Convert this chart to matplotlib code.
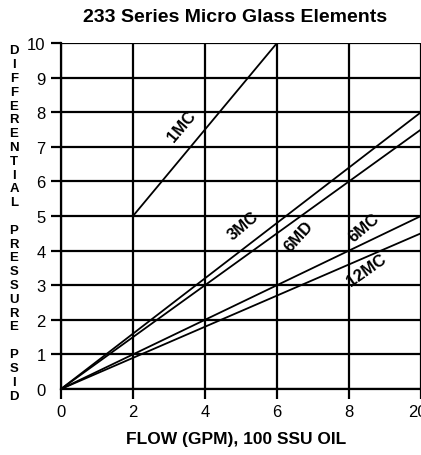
import matplotlib
matplotlib.use('Agg')
import matplotlib.pyplot as plt
import matplotlib.transforms as mtransforms
from matplotlib import font_manager

# font: condensed look if available
names = {f.name for f in font_manager.fontManager.ttflist}
fam = 'Liberation Sans'
for cand in ['Liberation Sans Narrow', 'DejaVu Sans Condensed']:
    if cand in names:
        fam = cand
        break
plt.rcParams['font.family'] = [fam, 'DejaVu Sans']

# data
series_names = ['1MC', '3MC', '6MD', '6MC', '12MC']
series_x = [[2, 6], [0, 10], [0, 10], [0, 10], [0, 10]]
series_y = [[5, 10], [0, 8], [0, 7.5], [0, 5], [0, 4.5]]
label_pos = [(3.36, 7.6), (5.06, 4.72), (6.6, 4.42), (8.4, 4.68), (8.5, 3.45)]
label_rot = [50, 40, 48, 40, 35]
x_ticks = [0, 2, 4, 6, 8, 10]
x_labels = ['0', '2', '4', '6', '8', '20']
y_ticks = list(range(0, 11))
y_title = 'DIFFERENTIAL PRESSURE PSID'

fig = plt.figure(figsize=(4.21, 4.56), dpi=100)
ax = fig.add_axes([61 / 421, 66 / 456, 1 - 61 / 421, (390 - 44) / 456])

for xs, ys in zip(series_x, series_y):
    ax.plot(xs, ys, color='black', lw=1.3, solid_capstyle='butt', zorder=3)

for name, (lx, ly), rot in zip(series_names, label_pos, label_rot):
    ax.text(lx, ly, name, rotation=rot, ha='center', va='center',
            fontsize=12, fontweight='bold', zorder=4)

ax.set_xlim(0, 10)
ax.set_ylim(0, 10)
ax.set_xticks(x_ticks)
ax.set_xticklabels(x_labels)
ax.set_yticks(y_ticks)
ax.tick_params(axis='both', length=7, width=1.6, direction='out', labelsize=12, pad=4)
ax.yaxis.get_major_ticks()[0].tick1line.set_visible(False)
ax.grid(True, color='black', lw=1.6)
for s in ['top', 'right']:
    ax.spines[s].set_visible(False)
for s in ['left', 'bottom']:
    ax.spines[s].set_linewidth(1.6)

# last tick label sits a bit left, as in the original (still cut by the edge)
last = ax.get_xticklabels()[-1]
last.set_transform(last.get_transform() + mtransforms.ScaledTranslation(-4 / 100, 0, fig.dpi_scale_trans))

fig.text(235 / 421, 1 - 17 / 456, '233 Series Micro Glass Elements', ha='center', va='center',
         fontsize=14, fontweight='bold')
fig.text(236 / 421, 1 - 440 / 456, 'FLOW (GPM), 100 SSU OIL', ha='center', va='center',
         fontsize=12.5, fontweight='bold')
fig.text(14 / 421, 1 - 224 / 456, '\n'.join(y_title), ha='center', va='center',
         fontsize=9.5, fontweight='bold', linespacing=1.2)

fig.savefig('out.png', dpi=100)
